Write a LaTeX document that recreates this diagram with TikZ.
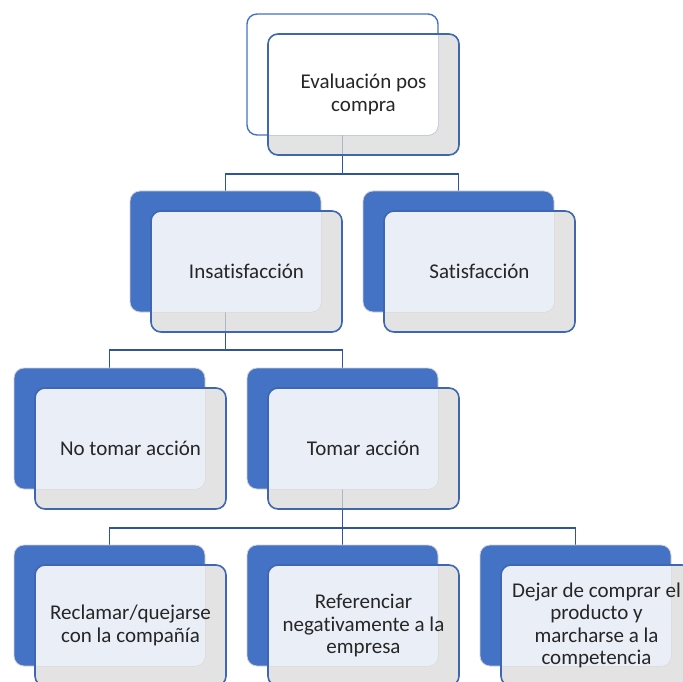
\documentclass[tikz,border=0pt]{standalone}
\usepackage{fontspec}
\setmainfont[Ligatures=NoCommon]{Carlito}
\usetikzlibrary{backgrounds}
\definecolor{bblue}{HTML}{4472C4}
\definecolor{dblue}{HTML}{2F5597}
\definecolor{fblue}{HTML}{3F66B0}
\definecolor{lblue}{HTML}{E9EEF7}
\definecolor{sgray}{HTML}{D9D9D9}
\definecolor{txt}{HTML}{262626}
\tikzset{
  backbox/.style={rectangle, rounded corners=10pt, minimum width=191pt, minimum height=121pt, inner sep=0pt, outer sep=0pt},
  backblue/.style={fill=bblue, draw=gray!35, line width=0.8pt},
  backwhite/.style={fill=white, draw=bblue, line width=1.4pt},
  frontbox/.style={rectangle, rounded corners=10pt, minimum width=191pt, minimum height=121pt, inner sep=0pt, outer sep=0pt, draw=fblue, line width=1.6pt, align=center, text=txt, font=\fontsize{21}{22.5}\selectfont},
  conn/.style={draw=dblue, line width=1.8pt},
}
\newcommand\hunit[6]{%
  \node[backbox,#4] (#1b) at (#2+95.5,#3+60.5) {};
  \fill[sgray, fill opacity=.75, rounded corners=10pt] (#2+21,#3+20) rectangle ++(191,121);
  \begin{scope}
    \clip[rounded corners=10pt] (#2,#3) rectangle ++(191,121);
    \fill[#6, rounded corners=10pt] (#2+21,#3+20) rectangle ++(191,121);
  \end{scope}
  \node[frontbox] (#1f) at (#2+116.5,#3+80.5) {#5};
}
\begin{document}
\begin{tikzpicture}[x=1pt,y=-1pt]
\useasboundingbox (0,0) rectangle (683,682);
\clip (0,0) rectangle (683,682);
\hunit{top}{247}{14}{backwhite}{Evaluación pos\\compra}{white}
\hunit{ins}{130}{191}{backblue}{Insatisfacción}{lblue}
\hunit{sat}{363}{191}{backblue}{Satisfacción}{lblue}
\hunit{no}{14}{368}{backblue}{No tomar acción}{lblue}
\hunit{tom}{247}{368}{backblue}{Tomar acción}{lblue}
\hunit{ra}{14}{545}{backblue}{Reclamar/quejarse\\con la compañía}{lblue}
\hunit{rb}{247}{545}{backblue}{Referenciar\\negativamente a la\\empresa}{lblue}
\hunit{rc}{480}{545}{backblue}{Dejar de comprar el\\producto y\\marcharse a la\\competencia}{lblue}
\coordinate (j1) at (342.5,174);
\coordinate (j2) at (225.5,350);
\coordinate (j3) at (342.5,528);
\begin{scope}[on background layer]
\draw[conn] (topb.south) -- (j1) -| (insb.north);
\draw[conn] (j1) -| (satb.north);
\draw[conn] (insb.south) -- (j2) -| (nob.north);
\draw[conn] (j2) -| (tomb.north);
\draw[conn] (tomb.south) -- (j3) -| (rab.north);
\draw[conn] (j3) -- (rbb.north);
\draw[conn] (j3) -| (rcb.north);
\end{scope}
\end{tikzpicture}
\end{document}
